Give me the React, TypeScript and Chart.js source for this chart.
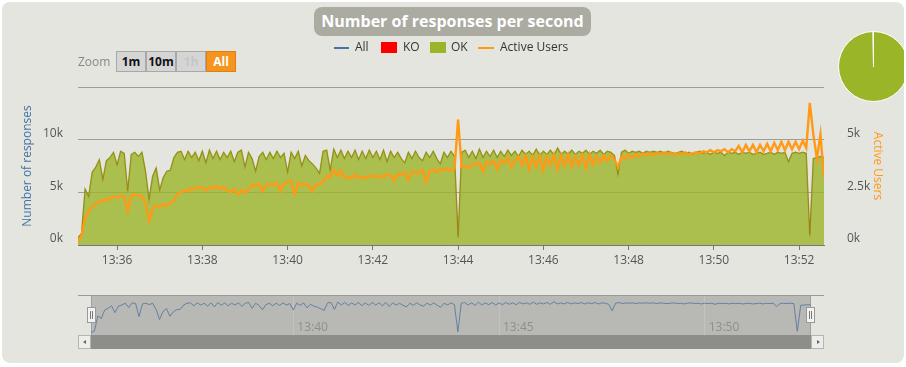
import React, { useEffect, useRef } from "react";
import { Chart, registerables } from "chart.js";
Chart.register(...registerables);

const FONT = '"Open Sans", "DejaVu Sans", sans-serif';

// time axis: one sample every 5 seconds starting 13:35:05
const START_LABEL = "13:35:05";
const STEP_SECONDS = 5;
const END_SECONDS = 1050;

const xTickLabels = ["13:36", "13:38", "13:40", "13:42", "13:44", "13:46", "13:48", "13:50", "13:52"];
const navTickLabels = ["13:40", "13:45", "13:50"];

const leftTicks = [0, 5000, 10000, 15000];
const rightTicks = [0, 2500, 5000, 7500];

// responses per second (OK)
const okValues = [
  700, 1100, 5300, 4600, 6900, 7400, 8100, 6200, 8000, 8300,
  8800, 7600, 8900, 8700, 5100, 8600, 8800, 8400, 8800, 7000,
  4300, 6500, 7300, 5200, 6400, 7000, 7100, 8300, 8800, 8900,
  8100, 8900, 8300, 8800, 8000, 8900, 7800, 9000, 8200, 8900,
  8100, 8800, 8300, 8900, 7900, 8800, 9000, 7400, 8800, 8200,
  7000, 8400, 8800, 8100, 8800, 8200, 8900, 8300, 8700, 6900,
  8800, 8200, 8900, 7500, 8500, 8000, 7700, 7300, 6800, 8900,
  9000, 7100, 9100, 8300, 9000, 8200, 8900, 8300, 9000, 8100,
  8900, 8200, 9000, 8300, 8900, 8100, 9000, 7900, 8900, 8300,
  8800, 8200, 7800, 8800, 8200, 8900, 8300, 8000, 8800, 8300,
  8900, 8200, 7700, 8800, 8300, 8900, 8400, 700, 8800, 9000,
  8300, 8900, 8200, 9100, 8300, 8900, 8400, 9000, 8300, 8900,
  8400, 9000, 8500, 8900, 8400, 9000, 8600, 8900, 8500, 9100,
  8500, 8900, 8600, 9000, 8500, 9200, 8600, 8900, 8600, 9000,
  8600, 8900, 8700, 9000, 8600, 8900, 8700, 9000, 8600, 8900,
  8800, 8500, 6700, 8800, 9000, 8700, 8900, 8800, 8900, 8700,
  8900, 8800, 8900, 8800, 8900, 8700, 8900, 8800, 8700, 8800,
  8900, 8700, 8800, 8600, 8800, 8900, 8700, 8800, 8600, 8800,
  8700, 8800, 8500, 8800, 8700, 8800, 8600, 8800, 8700, 8800,
  8600, 8700, 8800, 8600, 8700, 8800, 8600, 8800, 8700, 8800,
  7900, 8700, 8800, 8700, 8800, 8700, 800, 8200, 8300, 8400, 8300,
];

// KO responses per second: zero except at these sample indices
const koNonZero: Record<number, number> = { 107: 200, 206: 250 };

// active users
const activeUsers = [
  150, 450, 1300, 1600, 1850, 1950, 2050, 2150, 2100, 2200,
  2300, 2250, 2350, 2300, 1600, 2350, 2400, 2350, 2300, 2000,
  1150, 1700, 1900, 1800, 1950, 1850, 2000, 2100, 2450, 2500,
  2600, 2550, 2700, 2650, 2750, 2700, 2600, 2750, 2700, 2800,
  2650, 2750, 2600, 2500, 2650, 2400, 2600, 2450, 2650, 2850,
  2800, 2900, 2550, 2850, 2900, 2850, 2950, 2550, 2900, 3000,
  3050, 2400, 2950, 2850, 2900, 2800, 2550, 2900, 2850, 3000,
  3300, 3200, 3550, 3300, 3550, 3200, 3250, 3150, 3350, 3200,
  3250, 3150, 3300, 3250, 3250, 3300, 3200, 3350, 3300, 3050,
  3400, 3350, 3450, 3100, 3450, 3500, 3400, 3550, 3000, 3500,
  3600, 3450, 3600, 3550, 3650, 3500, 3650, 5950, 3700, 3750,
  3650, 3850, 3800, 3900, 3500, 3950, 3850, 4000, 3600, 4050,
  3900, 4150, 3700, 4000, 4200, 3800, 4250, 3600, 4200, 3700,
  4250, 3550, 4200, 3800, 4300, 3600, 4250, 3750, 4300, 3700,
  4200, 3800, 4250, 3650, 4300, 3800, 4200, 3900, 4250, 4000,
  4250, 4050, 3700, 4200, 4100, 4300, 4150, 4300, 4200, 4350,
  4250, 4350, 4250, 4350, 4300, 4400, 4300, 4350, 4300, 4350,
  4300, 4400, 4300, 4350, 4400, 4350, 4450, 4400, 4500, 4400,
  4500, 4450, 4550, 4400, 4550, 4450, 4700, 4400, 4750, 4450,
  4750, 4400, 4750, 4450, 4800, 4450, 4850, 4500, 4900, 4500,
  4900, 4550, 4900, 4550, 4950, 4600, 6750, 5250, 4100, 5250, 3200,
];

const pieLabels = ["OK", "KO"];
const pieValues = [99.8, 0.2];

const toSec = (s: string) => {
  const p = s.split(":").map(Number);
  return p[0] * 3600 + p[1] * 60 + (p[2] || 0);
};
const START = toSec(START_LABEL);
const tickPos = (l: string) => toSec(l) - START;

const koValues = okValues.map((_, i) => koNonZero[i] || 0);
const allValues = okValues.map((v, i) => v + koValues[i]);
const pts = (arr: number[]) => arr.map((y, i) => ({ x: i * STEP_SECONDS, y }));

const labelFor = (labels: string[]) => (v: number) => {
  const l = labels.find((lab) => tickPos(lab) === v);
  return l || "";
};
const kFmt = (hide: number) => (v: number) => (v === hide ? "" : v / 1000 + "k");

function MainChart() {
  const ref = useRef<HTMLCanvasElement>(null);
  useEffect(() => {
    const chart = new Chart(ref.current!, {
      type: "line",
      data: {
        datasets: [
          {
            label: "Active Users",
            data: pts(activeUsers),
            yAxisID: "y2",
            borderColor: "#FF9916",
            borderWidth: 2.4,
            pointRadius: 0,
            fill: false,
            order: 0,
          },
          {
            label: "KO",
            data: pts(allValues),
            yAxisID: "y",
            borderColor: "rgba(190,60,30,0.28)",
            backgroundColor: "rgba(255,0,0,0.7)",
            borderWidth: 1,
            pointRadius: 0,
            fill: 2,
            order: 1,
          },
          {
            label: "OK",
            data: pts(okValues),
            yAxisID: "y",
            borderColor: "#90A91D",
            backgroundColor: "rgba(155,181,41,0.8)",
            borderWidth: 1.4,
            pointRadius: 0,
            fill: "origin",
            order: 2,
          },
        ],
      },
      options: {
        animation: false,
        responsive: false,
        events: [],
        layout: { padding: { top: 87, left: 0, right: 0, bottom: 0 } },
        plugins: { legend: { display: false }, tooltip: { enabled: false } },
        elements: { line: { tension: 0 } },
        scales: {
          x: {
            type: "linear",
            min: 0,
            max: END_SECONDS,
            afterBuildTicks: (s: any) => {
              s.ticks = xTickLabels.map((l) => ({ value: tickPos(l) }));
            },
            afterFit: (s: any) => {
              s.height = 35;
            },
            ticks: {
              callback: labelFor(xTickLabels) as any,
              color: "#555",
              font: { family: FONT, size: 12 },
              padding: 3,
              maxRotation: 0,
              autoSkip: false,
            },
            grid: { drawOnChartArea: false, drawTicks: true, tickLength: 5, color: "#777" },
            border: { display: true, color: "#777", width: 1 },
          },
          y: {
            position: "left",
            min: 0,
            max: 15000,
            afterBuildTicks: (s: any) => {
              s.ticks = leftTicks.map((v) => ({ value: v }));
            },
            afterFit: (s: any) => {
              s.width = 78;
            },
            ticks: {
              callback: kFmt(15000) as any,
              color: "#555",
              font: { family: FONT, size: 12 },
              padding: 15,
              labelOffset: -6,
            },
            grid: { color: "#9C9C9C", drawTicks: false },
            border: { display: false },
            title: {
              display: true,
              text: "Number of responses",
              color: "#4572A7",
              font: { family: FONT, size: 12 },
              padding: { top: 20, bottom: 0 },
            },
          },
          y2: {
            position: "right",
            min: 0,
            max: 7500,
            afterBuildTicks: (s: any) => {
              s.ticks = rightTicks.map((v) => ({ value: v }));
            },
            afterFit: (s: any) => {
              s.width = 82;
            },
            ticks: {
              callback: kFmt(7500) as any,
              color: "#555",
              font: { family: FONT, size: 12 },
              padding: 15,
              labelOffset: -6,
            },
            grid: { display: false },
            border: { display: false },
            title: {
              display: true,
              text: "Active Users",
              color: "#FF9916",
              font: { family: FONT, size: 12 },
              padding: { top: 21, bottom: 0 },
            },
          },
        },
      } as any,
    });
    return () => chart.destroy();
  }, []);
  return (
    <canvas
      ref={ref}
      width={906}
      height={280}
      style={{ position: "absolute", left: 0, top: 0, width: 906, height: 280 }}
    />
  );
}

function NavChart() {
  const ref = useRef<HTMLCanvasElement>(null);
  useEffect(() => {
    const chart = new Chart(ref.current!, {
      type: "line",
      data: {
        datasets: [
          {
            label: "All",
            data: pts(allValues),
            borderColor: "rgba(80,115,160,0.8)",
            borderWidth: 1,
            pointRadius: 0,
            fill: false,
          },
        ],
      },
      options: {
        animation: false,
        responsive: false,
        events: [],
        layout: { padding: { top: 6, left: 91, right: 95, bottom: 0 } },
        plugins: { legend: { display: false }, tooltip: { enabled: false } },
        scales: {
          x: {
            type: "linear",
            min: 0,
            max: END_SECONDS,
            afterBuildTicks: (s: any) => {
              s.ticks = navTickLabels.map((l) => ({ value: tickPos(l) }));
            },
            afterFit: (s: any) => {
              s.height = 5;
            },
            ticks: {
              callback: labelFor(navTickLabels) as any,
              color: "#8E8E8E",
              font: { family: FONT, size: 12 },
              mirror: true,
              padding: 0,
              align: "start",
              labelOffset: 4,
              maxRotation: 0,
              autoSkip: false,
            },
            grid: { drawOnChartArea: true, drawTicks: false, color: "rgba(200,200,196,0.7)" },
            border: { display: false },
          },
          y: { display: false, min: 0, max: 10800 },
        },
      } as any,
    });
    return () => chart.destroy();
  }, []);
  return (
    <canvas
      ref={ref}
      width={906}
      height={50}
      style={{ position: "absolute", left: 0, top: 290, width: 906, height: 50 }}
    />
  );
}

function PieChart() {
  const ref = useRef<HTMLCanvasElement>(null);
  useEffect(() => {
    const chart = new Chart(ref.current!, {
      type: "pie",
      data: {
        labels: pieLabels,
        datasets: [
          {
            data: pieValues,
            backgroundColor: ["#9BB528", "#FF0000"],
            borderColor: "#FFFFFF",
            borderWidth: 1,
          },
        ],
      },
      options: {
        animation: false,
        responsive: false,
        events: [],
        plugins: { legend: { display: false }, tooltip: { enabled: false } },
      } as any,
    });
    return () => chart.destroy();
  }, []);
  return (
    <canvas
      ref={ref}
      width={71}
      height={71}
      style={{ position: "absolute", left: 2, top: 1, width: 71, height: 71 }}
    />
  );
}

const abs = (s: React.CSSProperties): React.CSSProperties => ({ position: "absolute", ...s });

function ZoomButton({ left, text, active, disabled }: { left: number; text: string; active?: boolean; disabled?: boolean }) {
  return (
    <div
      style={abs({
        left,
        top: 51,
        width: 30,
        height: 21,
        boxSizing: "border-box",
        border: active ? "1px solid #D9801A" : "1px solid #A8A8A8",
        background: active ? "#F7941D" : "#D5D5D5",
        color: active ? "#FFFFFF" : disabled ? "#C6C6C6" : "#111",
        font: `bold 12px ${FONT}`,
        lineHeight: "19px",
        textAlign: "center",
      })}
    >
      {text}
    </div>
  );
}

function LegendText({ left, text }: { left: number; text: string }) {
  return (
    <div style={abs({ left, top: 39, font: `12px ${FONT}`, lineHeight: "16px", color: "#333", whiteSpace: "nowrap" })}>
      {text}
    </div>
  );
}

function Handle({ left }: { left: number }) {
  return (
    <div
      style={abs({
        left,
        top: 307,
        width: 9,
        height: 16,
        boxSizing: "border-box",
        background: "#F2F2F2",
        border: "1px solid #999",
      })}
    >
      <div style={abs({ left: 2, top: 3, width: 1, height: 8, background: "#777" })} />
      <div style={abs({ left: 4, top: 3, width: 1, height: 8, background: "#777" })} />
    </div>
  );
}

export default function App() {
  return (
    <div style={abs({ left: 0, top: 0, width: 906, height: 367, background: "#FFFFFF", overflow: "hidden" })}>
      <div style={abs({ left: 2, top: 2, width: 902, height: 361, borderRadius: 8, background: "#E5E5DF" })} />

      {/* navigator background parts */}
      <div style={abs({ left: 78, top: 295, width: 746, height: 1, background: "#999" })} />
      <div
        style={abs({
          left: 91,
          top: 296,
          width: 720,
          height: 39,
          background: "#B8B8B4",
          borderLeft: "1px solid #A0A09C",
          borderRight: "1px solid #A0A09C",
          boxSizing: "border-box",
        })}
      />
      <NavChart />
      {/* scrollbar */}
      <div style={abs({ left: 78, top: 335, width: 746, height: 14, background: "#DCDCD8", boxSizing: "border-box", border: "1px solid #BDBDB8" })} />
      <div style={abs({ left: 91, top: 335, width: 720, height: 14, background: "#8D8D89" })} />
      <div style={abs({ left: 78, top: 335, width: 13, height: 14, background: "#EDEDEB", boxSizing: "border-box", border: "1px solid #B5B5B0" })}>
        <div style={abs({ left: 4, top: 4, width: 0, height: 0, borderTop: "2px solid transparent", borderBottom: "2px solid transparent", borderRight: "3px solid #666" })} />
      </div>
      <div style={abs({ left: 811, top: 335, width: 13, height: 14, background: "#EDEDEB", boxSizing: "border-box", border: "1px solid #B5B5B0" })}>
        <div style={abs({ left: 5, top: 4, width: 0, height: 0, borderTop: "2px solid transparent", borderBottom: "2px solid transparent", borderLeft: "3px solid #666" })} />
      </div>
      <Handle left={87} />
      <Handle left={806} />

      <MainChart />

      <div style={abs({ left: 836, top: 30, width: 68, height: 76, overflow: "hidden" })}>
        <PieChart />
      </div>

      {/* title */}
      <div
        style={abs({
          left: 314,
          top: 7,
          width: 277,
          height: 29,
          borderRadius: 8,
          background: "#ABABA2",
          color: "#FFFFFF",
          font: `bold 16px ${FONT}`,
          lineHeight: "29px",
          textAlign: "center",
          whiteSpace: "nowrap",
        })}
      >
        Number of responses per second
      </div>

      {/* legend */}
      <div style={abs({ left: 334, top: 47, width: 15, height: 2, background: "#4572A7" })} />
      <LegendText left={355} text="All" />
      <div style={abs({ left: 381, top: 42, width: 16, height: 11, background: "#FF0000" })} />
      <LegendText left={403} text="KO" />
      <div style={abs({ left: 430, top: 42, width: 16, height: 11, background: "#9BB528" })} />
      <LegendText left={451} text="OK" />
      <div style={abs({ left: 478, top: 47, width: 16, height: 2, background: "#FF9916" })} />
      <LegendText left={500} text="Active Users" />

      {/* zoom */}
      <div style={abs({ left: 78, top: 54, font: `12px ${FONT}`, lineHeight: "16px", color: "#888" })}>Zoom</div>
      <ZoomButton left={116} text="1m" />
      <ZoomButton left={146} text="10m" />
      <ZoomButton left={176} text="1h" disabled />
      <ZoomButton left={206} text="All" active />
    </div>
  );
}
